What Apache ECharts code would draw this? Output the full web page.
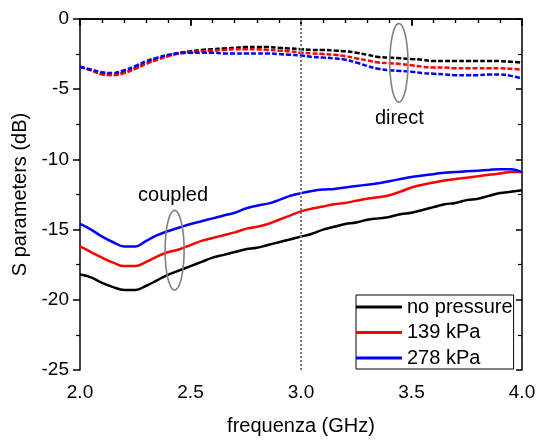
<!DOCTYPE html>
<html>
<head>
<meta charset="utf-8">
<script src="https://cdn.jsdelivr.net/npm/echarts@6/dist/echarts.min.js"></script>
<style>
html,body{margin:0;padding:0;background:#fff;}
#c{width:543px;height:441px;}
</style>
</head>
<body>
<div id="c"></div>
<script>
// frequency samples (GHz)
var freq = [2.00,2.05,2.10,2.15,2.20,2.25,2.30,2.35,2.40,2.45,2.50,2.55,2.60,2.65,2.70,2.75,2.80,2.85,2.90,2.95,
            3.00,3.05,3.10,3.15,3.20,3.25,3.30,3.35,3.40,3.45,3.50,3.55,3.60,3.65,3.70,3.75,3.80,3.85,3.90,3.95,4.00];

// coupled (solid)
var coupledNoPressure = [-18.2,-18.4,-18.8,-19.1,-19.3,-19.3,-19.0,-18.6,-18.2,-17.9,-17.6,-17.3,-17.0,-16.8,-16.6,-16.4,-16.3,-16.1,-15.9,-15.7,
                         -15.5,-15.3,-15.0,-14.8,-14.6,-14.5,-14.3,-14.2,-14.1,-13.9,-13.8,-13.6,-13.4,-13.2,-13.1,-12.9,-12.8,-12.6,-12.4,-12.3,-12.2];
var coupled139 = [-16.2,-16.6,-17.0,-17.35,-17.6,-17.6,-17.3,-16.9,-16.6,-16.4,-16.1,-15.8,-15.6,-15.4,-15.2,-14.95,-14.8,-14.6,-14.3,-14.0,
                  -13.7,-13.5,-13.35,-13.2,-13.1,-12.95,-12.8,-12.7,-12.55,-12.3,-12.0,-11.8,-11.65,-11.5,-11.4,-11.3,-11.2,-11.1,-11.0,-10.9,-10.9];
var coupled278 = [-14.6,-15.0,-15.5,-15.9,-16.2,-16.2,-15.8,-15.4,-15.1,-14.85,-14.6,-14.4,-14.2,-14.0,-13.8,-13.5,-13.3,-13.15,-12.9,-12.6,
                  -12.4,-12.25,-12.15,-12.1,-12.0,-11.9,-11.8,-11.7,-11.55,-11.4,-11.25,-11.15,-11.05,-10.95,-10.9,-10.85,-10.8,-10.75,-10.7,-10.7,-10.9];

// direct (dashed)
var directNoPressure = [-3.4,-3.65,-3.9,-3.95,-3.8,-3.5,-3.15,-2.85,-2.6,-2.4,-2.3,-2.2,-2.15,-2.1,-2.05,-2.0,-2.0,-2.0,-2.05,-2.1,
                        -2.15,-2.2,-2.2,-2.25,-2.3,-2.4,-2.55,-2.7,-2.75,-2.8,-2.85,-2.9,-3.0,-3.0,-3.0,-3.0,-3.0,-3.0,-3.0,-3.05,-3.1];
var direct139 = [-3.4,-3.65,-3.95,-4.0,-3.85,-3.55,-3.2,-2.9,-2.65,-2.45,-2.35,-2.3,-2.25,-2.2,-2.15,-2.15,-2.15,-2.2,-2.25,-2.3,
                 -2.4,-2.45,-2.5,-2.55,-2.65,-2.8,-2.95,-3.1,-3.15,-3.2,-3.3,-3.4,-3.45,-3.45,-3.5,-3.5,-3.5,-3.5,-3.5,-3.55,-3.6];
var direct278 = [-3.4,-3.6,-3.8,-3.85,-3.65,-3.35,-3.0,-2.75,-2.55,-2.45,-2.4,-2.4,-2.4,-2.45,-2.45,-2.45,-2.45,-2.45,-2.5,-2.55,
                 -2.6,-2.7,-2.75,-2.8,-2.9,-3.1,-3.35,-3.55,-3.65,-3.7,-3.75,-3.85,-3.9,-3.95,-4.0,-4.0,-4.0,-3.95,-3.95,-4.05,-4.25];

var seriesNames = ['no pressure','139 kPa','278 kPa'];
var seriesColors = ['#000000','#ff0000','#0000ff'];

// annotation ellipses: [centerX, centerY, widthGHz, heightDB]
var ellipses = [[3.443,-3.12,0.082,5.6],[2.428,-16.47,0.086,5.67]];
// annotation labels: [x, y, text]
var annotations = [[3.445,-7.1,'direct'],[2.421,-12.6,'coupled']];

var FONT = "'Liberation Sans', Arial, sans-serif";

function zip(a){ return freq.map(function(f,i){ return [f,a[i]]; }); }

var coupled = [coupledNoPressure, coupled139, coupled278];
var direct = [directNoPressure, direct139, direct278];

var series = [];
direct.forEach(function(d,i){
  series.push({
    name: seriesNames[i] + ' (direct)', type:'line', data: zip(d), showSymbol:false, smooth:0.4,
    lineStyle:{color:seriesColors[i], width:2.5, type:[5,2]}, itemStyle:{color:seriesColors[i]}, z:3
  });
});
coupled.forEach(function(d,i){
  series.push({
    name: seriesNames[i], type:'line', data: zip(d), showSymbol:false, smooth:0.4,
    lineStyle:{color:seriesColors[i], width:2.5}, itemStyle:{color:seriesColors[i]}, z:3
  });
});
series[0].markLine = {
  silent:true, symbol:'none', label:{show:false},
  lineStyle:{color:'#7a7a7a', type:[2,2], width:2},
  data:[{xAxis:3.0}]
};
series.push({
  type:'custom', name:'ellipses', data: ellipses, silent:true, z:4,
  renderItem: function(params, api){
    var c = api.coord([api.value(0), api.value(1)]);
    var s = api.size([api.value(2), api.value(3)]);
    var rx = s[0]/2, ry = s[1]/2, pts = [];
    for (var k=0;k<=72;k++){ var t = k/72*Math.PI*2; pts.push([c[0]+rx*Math.cos(t), c[1]+ry*Math.sin(t)]); }
    return {type:'polyline', shape:{points:pts}, style:{stroke:'#808080', lineWidth:1.6, fill:null}};
  }
});
series.push({
  type:'custom', name:'labels', data: annotations, silent:true, z:4,
  renderItem: function(params, api){
    var c = api.coord([api.value(0), api.value(1)]);
    return {type:'text', x:c[0], y:c[1], style:{text: annotations[params.dataIndex][2], font:'20px '+FONT, fill:'#000', align:'center', verticalAlign:'middle'}};
  }
});

var axisLine = {show:true, lineStyle:{color:'#000', width:1.5}};
var chart = echarts.init(document.getElementById('c'), null, {renderer:'canvas'});
chart.setOption({
  backgroundColor:'#fff',
  animation:false,
  textStyle:{fontFamily:FONT},
  grid:{left:80, right:21, top:19, bottom:65, containLabel:false},
  legend:{
    data: seriesNames, orient:'vertical', left:356, top:295,
    icon:'rect', itemWidth:46, itemHeight:3, itemGap:5.5,
    padding:[2,1,1,0], borderColor:'#000', borderWidth:1, backgroundColor:'#fff',
    textStyle:{fontSize:20, color:'#000', fontFamily:FONT, lineHeight:20},
    selectedMode:false
  },
  xAxis:[{
    type:'value', min:2, max:4, interval:0.5, position:'bottom',
    axisLine: axisLine,
    axisTick:{show:true, inside:false, length:7, lineStyle:{color:'#000', width:1.5}},
    minorTick:{show:true, splitNumber:5, length:4, lineStyle:{color:'#000', width:1.2}},
    splitLine:{show:false},
    axisLabel:{color:'#000', fontSize:19, margin:13, fontFamily:FONT, formatter:function(v){return v.toFixed(1);}},
    name:'frequenza (GHz)', nameLocation:'middle', nameGap:46,
    nameTextStyle:{color:'#000', fontSize:20, fontFamily:FONT}
  },{
    type:'value', min:2, max:4, interval:0.5, position:'top',
    axisLine: axisLine,
    axisTick:{show:true, inside:true, length:6, lineStyle:{color:'#000', width:1.5}},
    minorTick:{show:true, splitNumber:5, length:4, lineStyle:{color:'#000', width:1.2}},
    splitLine:{show:false}, axisLabel:{show:false}
  }],
  yAxis:[{
    type:'value', min:-25, max:0, interval:5, position:'left',
    axisLine: axisLine,
    axisTick:{show:true, inside:false, length:7, lineStyle:{color:'#000', width:1.5}},
    minorTick:{show:true, splitNumber:2, length:4, lineStyle:{color:'#000', width:1.2}},
    splitLine:{show:false},
    axisLabel:{color:'#000', fontSize:19, margin:11, fontFamily:FONT},
    name:'S parameters (dB)', nameLocation:'middle', nameGap:46,
    nameTextStyle:{color:'#000', fontSize:20, fontFamily:FONT}
  },{
    type:'value', min:-25, max:0, interval:5, position:'right',
    axisLine: axisLine,
    axisTick:{show:true, inside:true, length:6, lineStyle:{color:'#000', width:1.5}},
    minorTick:{show:true, splitNumber:2, length:4, lineStyle:{color:'#000', width:1.2}},
    splitLine:{show:false}, axisLabel:{show:false}
  }],
  series: series
});
</script>
</body>
</html>
